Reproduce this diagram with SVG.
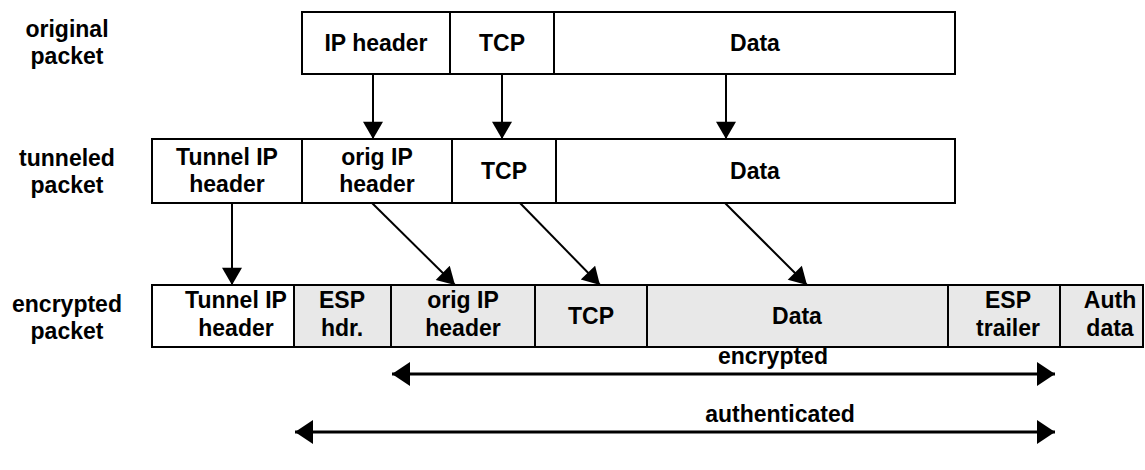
<svg xmlns="http://www.w3.org/2000/svg" width="1145" height="470" viewBox="0 0 1145 470">
  <style>
    text { font-family: "Liberation Sans", Arial, sans-serif; font-weight: bold; font-size: 23px; fill: #000; text-anchor: middle; }
    .cell { fill: #fff; stroke: #000; stroke-width: 2; }
    .enc { fill: #e8e8e8; stroke: #000; stroke-width: 2; }
    .link { stroke: #000; stroke-width: 2; fill: none; marker-end: url(#head); }
    .span { stroke: #000; stroke-width: 3; fill: none; marker-start: url(#tipL); marker-end: url(#tipR); }
  </style>
  <defs>
    <marker id="head" markerUnits="userSpaceOnUse" markerWidth="22" markerHeight="20" refX="19" refY="11" orient="auto" viewBox="0 0 20 22">
      <path d="M0,0 L19,11 L0,22 Z" fill="#000"/>
    </marker>
    <marker id="tipR" markerUnits="userSpaceOnUse" markerWidth="20" markerHeight="24" refX="18" refY="12" orient="auto" viewBox="0 0 20 24">
      <path d="M0,0 L18,12 L0,24 Z" fill="#000"/>
    </marker>
    <marker id="tipL" markerUnits="userSpaceOnUse" markerWidth="20" markerHeight="24" refX="0" refY="12" orient="auto" viewBox="0 0 20 24">
      <path d="M18,0 L0,12 L18,24 Z" fill="#000"/>
    </marker>
  </defs>

  <!-- row captions -->
  <g id="label-original">
    <text x="67" y="37">original</text>
    <text x="67" y="64">packet</text>
  </g>
  <g id="label-tunneled">
    <text x="67" y="166">tunneled</text>
    <text x="67" y="193">packet</text>
  </g>
  <g id="label-encrypted">
    <text x="67" y="312">encrypted</text>
    <text x="67" y="339">packet</text>
  </g>

  <!-- original packet -->
  <g id="orig-ip">
    <rect class="cell" x="302" y="12" width="148" height="62"/>
    <text x="376" y="51">IP header</text>
  </g>
  <g id="orig-tcp">
    <rect class="cell" x="450" y="12" width="104" height="62"/>
    <text x="502" y="51">TCP</text>
  </g>
  <g id="orig-data">
    <rect class="cell" x="554" y="12" width="401" height="62"/>
    <text x="755" y="51">Data</text>
  </g>

  <!-- tunneled packet -->
  <g id="tun-outer-ip">
    <rect class="cell" x="152" y="139" width="150" height="64"/>
    <text x="227" y="165">Tunnel IP</text>
    <text x="227" y="192">header</text>
  </g>
  <g id="tun-orig-ip">
    <rect class="cell" x="302" y="139" width="150" height="64"/>
    <text x="377" y="165">orig IP</text>
    <text x="377" y="192">header</text>
  </g>
  <g id="tun-tcp">
    <rect class="cell" x="452" y="139" width="104" height="64"/>
    <text x="504" y="179">TCP</text>
  </g>
  <g id="tun-data">
    <rect class="cell" x="556" y="139" width="399" height="64"/>
    <text x="755" y="179">Data</text>
  </g>

  <!-- encrypted packet -->
  <g id="enc-outer-ip">
    <rect class="cell" x="152" y="285" width="142" height="62"/>
    <text x="236" y="308">Tunnel IP</text>
    <text x="236" y="336">header</text>
  </g>
  <g id="enc-esp-hdr">
    <rect class="enc" x="294" y="285" width="97" height="62"/>
    <text x="342" y="308">ESP</text>
    <text x="342" y="336">hdr.</text>
  </g>
  <g id="enc-orig-ip">
    <rect class="enc" x="391" y="285" width="144" height="62"/>
    <text x="463" y="308">orig IP</text>
    <text x="463" y="336">header</text>
  </g>
  <g id="enc-tcp">
    <rect class="enc" x="535" y="285" width="112" height="62"/>
    <text x="591" y="324">TCP</text>
  </g>
  <g id="enc-data">
    <rect class="enc" x="647" y="285" width="301" height="62"/>
    <text x="797" y="324">Data</text>
  </g>
  <g id="enc-esp-trailer">
    <rect class="enc" x="948" y="285" width="112" height="62"/>
    <text x="1008" y="308">ESP</text>
    <text x="1008" y="336">trailer</text>
  </g>
  <g id="enc-auth">
    <rect class="enc" x="1060" y="285" width="83" height="62"/>
    <text x="1110" y="308">Auth</text>
    <text x="1110" y="336">data</text>
  </g>

  <!-- coverage spans -->
  <g id="span-encrypted">
    <text x="773" y="364">encrypted</text>
  </g>
  <g id="span-authenticated">
    <text x="780" y="422">authenticated</text>
  </g>

  <!-- connectors -->
  <g id="connectors">
    <line class="link" x1="373" y1="74" x2="373" y2="139"/>
    <line class="link" x1="502" y1="74" x2="502" y2="139"/>
    <line class="link" x1="726" y1="74" x2="726" y2="139"/>
    <line class="link" x1="232" y1="203" x2="232" y2="285"/>
    <line class="link" x1="372" y1="203" x2="455" y2="285"/>
    <line class="link" x1="520" y1="203" x2="600" y2="285"/>
    <line class="link" x1="725" y1="203" x2="807" y2="285"/>
    <line class="span" x1="392" y1="374" x2="1055" y2="374"/>
    <line class="span" x1="295" y1="432" x2="1055" y2="432"/>
  </g>
</svg>
